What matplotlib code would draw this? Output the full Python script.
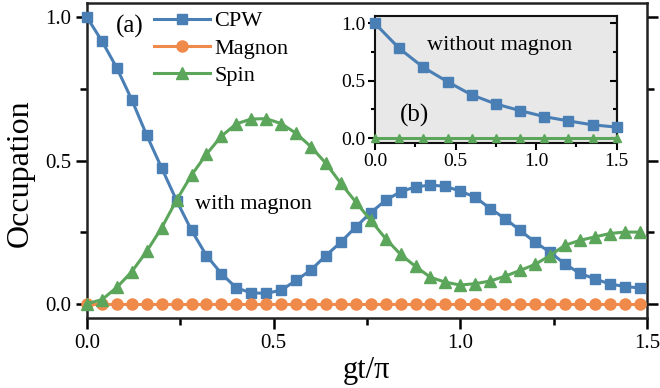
import numpy as np
import matplotlib.pyplot as plt
from matplotlib.ticker import MultipleLocator

plt.rcParams['font.family'] = ['Liberation Serif', 'DejaVu Serif']

# main panel (a): occupation vs gt/pi, with magnon
t = [0.00, 0.04, 0.08, 0.12, 0.16, 0.20, 0.24, 0.28, 0.32, 0.36,
     0.40, 0.44, 0.48, 0.52, 0.56, 0.60, 0.64, 0.68, 0.72, 0.76,
     0.80, 0.84, 0.88, 0.92, 0.96, 1.00, 1.04, 1.08, 1.12, 1.16,
     1.20, 1.24, 1.28, 1.32, 1.36, 1.40, 1.44, 1.48]
cpw = [1.000, 0.917, 0.823, 0.712, 0.588, 0.474, 0.360, 0.256, 0.168, 0.105,
       0.055, 0.038, 0.036, 0.047, 0.081, 0.118, 0.168, 0.215, 0.268, 0.318,
       0.361, 0.391, 0.408, 0.414, 0.410, 0.393, 0.372, 0.332, 0.297, 0.256,
       0.215, 0.180, 0.139, 0.106, 0.087, 0.069, 0.060, 0.055]
magnon = [0.0] * 38
spin = [0.000, 0.014, 0.057, 0.112, 0.183, 0.265, 0.362, 0.449, 0.522, 0.585,
        0.628, 0.645, 0.646, 0.629, 0.595, 0.548, 0.490, 0.420, 0.355, 0.291,
        0.227, 0.172, 0.130, 0.092, 0.075, 0.065, 0.070, 0.079, 0.096, 0.116,
        0.137, 0.168, 0.204, 0.221, 0.233, 0.245, 0.250, 0.250]

# inset (b): without magnon
t_b = [0.00, 0.15, 0.30, 0.45, 0.60, 0.75, 0.90, 1.05, 1.20, 1.35, 1.50]
cpw_b = [1.000, 0.783, 0.617, 0.492, 0.377, 0.298, 0.240, 0.188, 0.150, 0.116, 0.096]
spin_b = [0.0] * 11

blue = '#4a7fb6'
orange = '#f08a4b'
green = '#5ba65a'

fig = plt.figure(figsize=(6.6, 3.88), dpi=100)
ax = fig.add_axes([87/660, 1-318/388, 560/660, 315/388])

ax.plot(t, cpw, '-s', color=blue, lw=2.2, ms=7.2, label='CPW', clip_on=False, zorder=3)
ax.plot(t, magnon, '-o', color=orange, lw=2.2, ms=8, label='Magnon', clip_on=False, zorder=3)
ax.plot(t, spin, '-^', color=green, lw=2.2, ms=8.5, label='Spin', clip_on=False, zorder=4)

ax.set_xlim(0, 1.5)
ax.set_ylim(-0.05, 1.05)
ax.xaxis.set_major_locator(MultipleLocator(0.5))
ax.xaxis.set_minor_locator(MultipleLocator(0.25))
ax.yaxis.set_major_locator(MultipleLocator(0.5))
ax.yaxis.set_minor_locator(MultipleLocator(0.25))
ax.tick_params(which='both', direction='out', width=1.8, labelsize=15, right=True)
ax.tick_params(which='major', length=8)
ax.tick_params(which='minor', length=5)
for s in ax.spines.values():
    s.set_linewidth(1.8)
    s.set_color('#222222')
ax.set_xlabel('gt/π', fontsize=22, labelpad=2)
ax.set_ylabel('Occupation', fontsize=23)
ax.yaxis.set_label_coords(-0.093, 0.46)

ax.legend(loc='upper left', bbox_to_anchor=(0.12, 0.975), frameon=False, fontsize=16,
          handlelength=2.5, handletextpad=0.2, labelspacing=0.3, borderpad=0,
          borderaxespad=0)
ax.text(0.077, 0.925, '(a)', transform=ax.transAxes, fontsize=18, ha='center', va='center')
ax.text(0.29, 0.345, 'with magnon', fontsize=16, ha='left', va='center')

# inset
axi = fig.add_axes([375/660, 1-143.3/388, 241.7/660, 127.3/388])
axi.set_facecolor('#e8e8e8')
axi.plot(t_b, cpw_b, '-s', color=blue, lw=2.2, ms=7, clip_on=False, zorder=3)
axi.plot(t_b, spin_b, '-^', color=green, lw=2.2, ms=5.5, clip_on=False, zorder=3)
axi.set_xlim(0, 1.5)
axi.set_ylim(-0.045, 1.065)
axi.xaxis.set_major_locator(MultipleLocator(0.5))
axi.xaxis.set_minor_locator(MultipleLocator(0.25))
axi.yaxis.set_major_locator(MultipleLocator(0.5))
axi.yaxis.set_minor_locator(MultipleLocator(0.25))
axi.tick_params(which='both', direction='out', width=1.5, labelsize=14, pad=2)
axi.tick_params(which='major', length=5)
axi.tick_params(which='minor', length=3)
for s in axi.spines.values():
    s.set_linewidth(1.5)
    s.set_color('#111111')

# inward ticks on the inset's right side
sec = axi.secondary_yaxis('right')
sec.yaxis.set_major_locator(MultipleLocator(0.5))
sec.yaxis.set_minor_locator(MultipleLocator(0.25))
sec.tick_params(which='both', direction='in', width=1.5, labelright=False)
sec.tick_params(which='major', length=5)
sec.tick_params(which='minor', length=3)
sec.spines['right'].set_linewidth(1.5)

axi.text(0.776, 0.81, 'without magnon', fontsize=16, ha='center', va='center')
axi.text(0.248, 0.2, '(b)', fontsize=18, ha='center', va='center')

fig.savefig('out.png', dpi=100)
